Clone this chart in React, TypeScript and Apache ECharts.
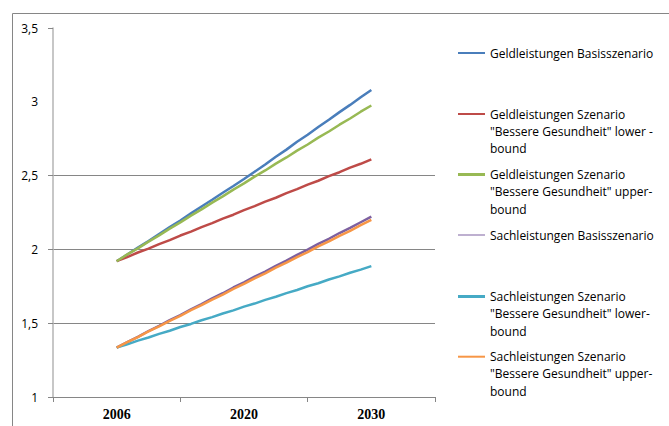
import React, { useEffect, useRef } from "react";
import * as echarts from "echarts";

const categories = ["2006", "2020", "2030"];
const years = [2006, 2007, 2008, 2009, 2010, 2011, 2012, 2013, 2014, 2015, 2016, 2017, 2018, 2019, 2020, 2021, 2022, 2023, 2024, 2025, 2026, 2027, 2028, 2029, 2030];

const geldBasis = [1.92, 1.965, 2.012, 2.056, 2.104, 2.151, 2.196, 2.244, 2.291, 2.336, 2.384, 2.43, 2.477, 2.526, 2.575, 2.628, 2.676, 2.729, 2.777, 2.829, 2.878, 2.93, 2.979, 3.031, 3.08];
const geldLower = [1.92, 1.948, 1.979, 2.005, 2.036, 2.063, 2.094, 2.12, 2.151, 2.178, 2.209, 2.235, 2.266, 2.293, 2.324, 2.35, 2.381, 2.408, 2.439, 2.465, 2.496, 2.523, 2.554, 2.58, 2.61];
const geldUpper = [1.92, 1.966, 2.007, 2.053, 2.095, 2.141, 2.183, 2.229, 2.271, 2.317, 2.359, 2.405, 2.447, 2.493, 2.535, 2.581, 2.623, 2.669, 2.711, 2.757, 2.799, 2.845, 2.887, 2.933, 2.975];
const sachBasis = [1.335, 1.372, 1.408, 1.447, 1.482, 1.521, 1.555, 1.594, 1.629, 1.668, 1.703, 1.742, 1.777, 1.816, 1.85, 1.889, 1.924, 1.963, 1.998, 2.037, 2.072, 2.111, 2.146, 2.184, 2.222];
const sachLower = [1.335, 1.357, 1.382, 1.403, 1.428, 1.449, 1.474, 1.495, 1.52, 1.541, 1.566, 1.587, 1.612, 1.633, 1.658, 1.679, 1.704, 1.725, 1.75, 1.771, 1.796, 1.817, 1.842, 1.863, 1.887];
const sachUpper = [1.335, 1.372, 1.406, 1.444, 1.478, 1.516, 1.55, 1.588, 1.622, 1.66, 1.694, 1.732, 1.766, 1.804, 1.838, 1.876, 1.91, 1.948, 1.982, 2.02, 2.054, 2.092, 2.126, 2.164, 2.2];

const seriesNames = [
  "Geldleistungen Basisszenario",
  "Geldleistungen Szenario\n\"Bessere Gesundheit\" lower -\nbound",
  "Geldleistungen Szenario\n\"Bessere Gesundheit\" upper-\nbound",
  "Sachleistungen Basisszenario",
  "Sachleistungen Szenario\n\"Bessere Gesundheit\" lower-\nbound",
  "Sachleistungen Szenario\n\"Bessere Gesundheit\" upper-\nbound",
];
const seriesValues = [geldBasis, geldLower, geldUpper, sachBasis, sachLower, sachUpper];
const seriesColors = ["#4A7EBB", "#BE4B48", "#98B954", "#7D60A0", "#46AAC5", "#F79646"];
const legendThickness = [2, 2, 3, 1, 3, 2];
const legendIconCenters = [53, 114, 174.5, 235, 296.5, 356.7];

const yTicks = [1, 1.5, 2, 2.5, 3.5];

export default function App() {
  const ref = useRef<HTMLDivElement>(null);
  useEffect(() => {
    if (!ref.current) return;
    const chart = echarts.init(ref.current, undefined, { renderer: "svg" });
    const LH = 17.3;
    const legends = seriesNames.map((name, i) => {
      const lines = name.split("\n").length;
      const totalLines = lines * 2 - 1;
      const h = totalLines * LH;
      return {
        show: true,
        data: [name],
        orient: "vertical",
        left: 458,
        top: legendIconCenters[i] - h / 2,
        padding: 0,
        icon: "rect",
        itemWidth: 27,
        itemHeight: legendThickness[i],
        itemGap: 0,
        selectedMode: false,
        itemStyle: { color: seriesColors[i] },
        formatter: (n: string) => "\n".repeat(lines - 1) + n,
        textStyle: {
          fontFamily: "Open Sans",
          fontSize: 12,
          color: "#000",
          lineHeight: LH,
        },
      };
    });
    chart.setOption({
      animation: false,
      backgroundColor: "#fff",
      grid: { left: 53, right: 234, top: 28, bottom: 29, containLabel: false },
      legend: legends,
      xAxis: [
        {
          type: "category",
          data: categories,
          boundaryGap: true,
          axisLine: { lineStyle: { color: "#868686", width: 1 } },
          axisTick: { show: true, length: 5, lineStyle: { color: "#868686" } },
          axisLabel: {
            fontFamily: "Liberation Serif",
            fontWeight: "bold",
            fontSize: 14,
            color: "#000",
            margin: 10,
          },
          splitLine: { show: false },
        },
        {
          type: "value",
          min: 2000,
          max: 2036,
          show: false,
          splitLine: { show: false },
        },
      ],
      yAxis: {
        type: "value",
        min: 1,
        max: 3.5,
        interval: 0.5,
        axisLine: { show: true, lineStyle: { color: "#B5B5B5", width: 1.5 } },
        axisTick: {
          show: true,
          length: 5,
          customValues: yTicks,
          lineStyle: { color: "#868686" },
        },
        axisLabel: {
          fontFamily: "Open Sans",
          fontSize: 12,
          color: "#000",
          margin: 15,
          formatter: (v: number) => String(v).replace(".", ","),
        },
        splitLine: {
          show: true,
          lineStyle: {
            color: ["#868686", "#868686", "#868686", "#868686", "rgba(0,0,0,0)", "#868686"],
            width: 1,
          },
        },
      },
      graphic: [
        {
          type: "rect",
          shape: { x: 12.5, y: 13.5, width: 720, height: 500 },
          style: { fill: "none", stroke: "#868686", lineWidth: 1 },
          silent: true,
          z: -10,
        },
      ],
      series: seriesNames.map((name, i) => ({
        name,
        type: "line",
        xAxisIndex: 1,
        data: years.map((y, j) => [y, seriesValues[i][j]]),
        showSymbol: false,
        symbol: "none",
        lineStyle: { color: seriesColors[i], width: 2.5 },
        itemStyle: { color: seriesColors[i] },
      })),
    });
    return () => chart.dispose();
  }, []);
  return (
    <div
      ref={ref}
      style={{ position: "fixed", left: 0, top: 0, width: 669, height: 426 }}
    />
  );
}
